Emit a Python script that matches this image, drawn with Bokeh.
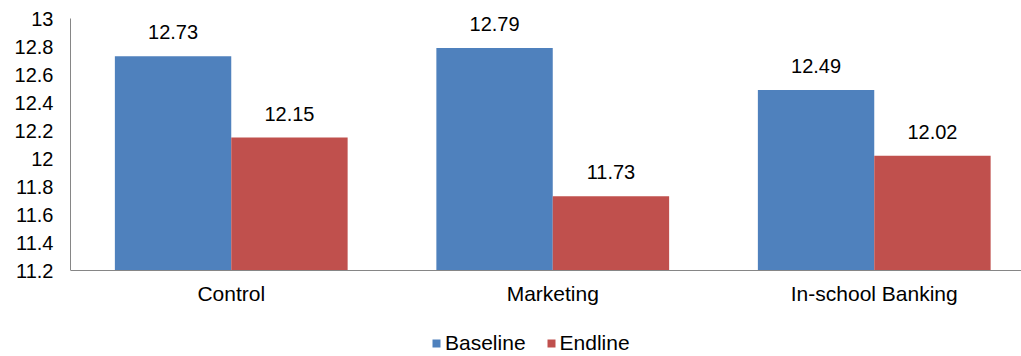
from bokeh.plotting import figure
from bokeh.models import ColumnDataSource, FixedTicker, NumeralTickFormatter, Legend, LegendItem, LinearAxis
from bokeh.embed import file_html
from bokeh.resources import INLINE
from bokeh.core.properties import value

categories = ["Control", "Marketing", "In-school Banking"]
baseline = [12.73, 12.79, 12.49]
endline = [12.15, 11.73, 12.02]
y_ticks = [11.2, 11.4, 11.6, 11.8, 12.0, 12.2, 12.4, 12.6, 12.8, 13.0]

FONT = "Liberation Sans"
BLUE = "#4F81BD"
RED = "#C0504D"
AXIS = "#868686"

centers = [i + 0.5 for i in range(len(categories))]
bw = 0.362
y0 = y_ticks[0]
y1 = y_ticks[-1]
FRAME_H = 356
TOP_PAD = 18       # px above the 13 tick
BOTTOM_PAD = 86    # px below the 11.2 tick
px_per_unit = (FRAME_H - TOP_PAD - BOTTOM_PAD) / (y1 - y0)

src_b = ColumnDataSource(dict(x=[c - bw / 2 for c in centers], top=baseline,
                              lbl=[f"{v:.2f}" for v in baseline]))
src_e = ColumnDataSource(dict(x=[c + bw / 2 for c in centers], top=endline,
                              lbl=[f"{v:.2f}" for v in endline]))

p = figure(width=1021, height=356, output_backend="svg", toolbar_location=None,
           x_range=(0, 2.958),
           y_range=(y0 - BOTTOM_PAD / px_per_unit, y1 + TOP_PAD / px_per_unit),
           frame_width=951, frame_height=FRAME_H,
           x_axis_location=None, y_axis_location=None,
           min_border_left=70, min_border_right=0, min_border_top=0, min_border_bottom=0)
p.outline_line_color = None
p.xgrid.visible = False
p.ygrid.visible = False
p.background_fill_color = "white"
p.border_fill_color = "white"

rb = p.vbar(x="x", top="top", bottom=y0, width=bw, source=src_b, fill_color=BLUE, line_color=None)
re_ = p.vbar(x="x", top="top", bottom=y0, width=bw, source=src_e, fill_color=RED, line_color=None)

for s in (src_b, src_e):
    p.text(x="x", y="top", text="lbl", source=s, text_align="center", text_baseline="alphabetic",
           y_offset=-24, text_font=value(FONT), text_font_size="20px", text_color="#000000")

# x axis (drawn at y = 11.2)
xaxis = LinearAxis(ticker=FixedTicker(ticks=centers), fixed_location=y0)
xaxis.major_label_overrides = {c: n for c, n in zip(centers, categories)}
xaxis.major_tick_out = 0
xaxis.major_tick_in = 0
xaxis.minor_tick_out = 0
xaxis.minor_tick_in = 0
xaxis.major_label_standoff = 11
xaxis.axis_line_color = AXIS
xaxis.major_label_text_font = FONT
xaxis.major_label_text_font_size = "21px"
xaxis.major_label_text_color = "#000000"
p.add_layout(xaxis, "below")

# y axis
yaxis = LinearAxis(ticker=FixedTicker(ticks=y_ticks), bounds=(y0, y1),
                   formatter=NumeralTickFormatter(format="0.[0]"))
yaxis.major_tick_out = 0
yaxis.major_tick_in = 0
yaxis.minor_tick_out = 0
yaxis.minor_tick_in = 0
yaxis.major_label_standoff = 17
yaxis.axis_line_color = AXIS
yaxis.major_label_text_font = FONT
yaxis.major_label_text_font_size = "20px"
yaxis.major_label_text_color = "#000000"
p.add_layout(yaxis, "left")

legend = Legend(items=[LegendItem(label="Baseline", renderers=[rb]),
                       LegendItem(label="Endline", renderers=[re_])],
                orientation="horizontal", location=(361, 1),
                glyph_width=10, glyph_height=10, label_standoff=4, spacing=20,
                label_text_font=FONT, label_text_font_size="21px", label_height=20,
                label_text_color="#000000",
                border_line_color=None, background_fill_alpha=0,
                padding=0, margin=0)
p.add_layout(legend, "center")

open("out.html", "w").write(file_html(p, INLINE))
